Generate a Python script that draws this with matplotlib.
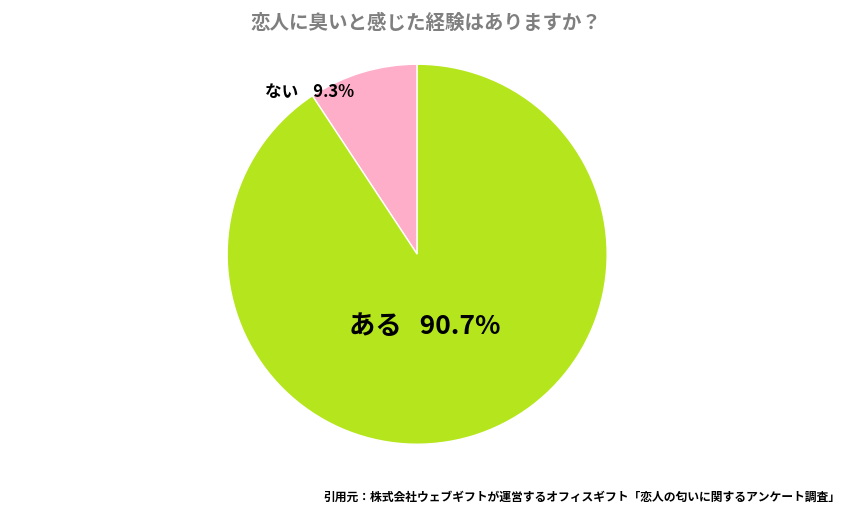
import matplotlib.pyplot as plt

plt.rcParams['font.family'] = ['Noto Sans CJK JP', 'DejaVu Sans']

labels = ["ない", "ある"]
values = [9.3, 90.7]
colors = ["#ffaec9", "#b5e61d"]
title = "恋人に臭いと感じた経験はありますか？"
source = "引用元：株式会社ウェブギフトが運営するオフィスギフト「恋人の匂いに関するアンケート調査」"

fig = plt.figure(figsize=(8.53, 5.22), dpi=100)
ax = fig.add_axes([0.489 - 0.2227, 0.513 - 0.364, 0.4455, 0.728])
ax.pie(values, colors=colors, startangle=90, counterclock=True,
       wedgeprops=dict(edgecolor="white", linewidth=1))
ax.set_xlim(-1, 1)
ax.set_ylim(-1, 1)
ax.set_aspect("equal")

fig.text(0.5, 0.955, title, ha="center", va="center", fontsize=14,
         fontweight="bold", color="#7f7f7f")
fig.text(310 / 853, 1 - 92 / 522, f"{labels[0]}    {values[0]}%", ha="center", va="center",
         fontsize=12, fontweight="bold", color="black")
fig.text(425 / 853, 1 - 327 / 522, f"{labels[1]}   {values[1]}%", ha="center", va="center",
         fontsize=19, fontweight="bold", color="black")
fig.text(840 / 853, 1 - 497 / 522, source, ha="right", va="center",
         fontsize=8.5, fontweight="bold", color="black")

fig.savefig("out.png", dpi=100)
